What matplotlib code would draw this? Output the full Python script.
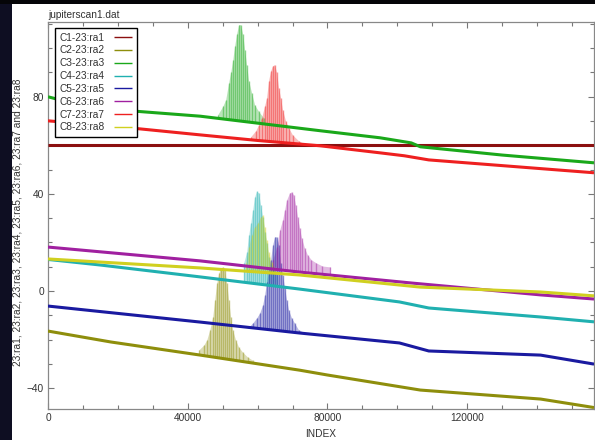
import numpy as np
import matplotlib
matplotlib.use("Agg")
import matplotlib.pyplot as plt
from matplotlib.ticker import MultipleLocator
from matplotlib.patches import Rectangle

plt.rcParams['font.family'] = ['Liberation Sans', 'DejaVu Sans']

labels = ["C1-23:ra1", "C2-23:ra2", "C3-23:ra3", "C4-23:ra4",
          "C5-23:ra5", "C6-23:ra6", "C7-23:ra7", "C8-23:ra8"]
colors = ['#8b1010', '#8e8e0c', '#1aa81a', '#20b0b0',
          '#1a1aa0', '#a020a0', '#ee2020', '#d0d020']

# baseline (drift) of each channel: INDEX sample points and values
c1_x = [0, 156300]
c1_y = [60.2, 60.2]
c2_x = [0, 18000, 43600, 72000, 80000, 106600, 141000, 156300]
c2_y = [-16.5, -21.0, -26.4, -32.6, -34.6, -40.8, -44.5, -48.0]
c3_x = [0, 12000, 43600, 78000, 95100, 104000, 106600, 130000, 156300]
c3_y = [80.0, 75.5, 72.0, 66.0, 63.1, 61.0, 59.4, 56.0, 52.8]
c4_x = [0, 15000, 43600, 72000, 100600, 109000, 141000, 156300]
c4_y = [13.0, 10.7, 5.8, 0.8, -4.5, -7.0, -10.7, -12.7]
c5_x = [0, 43600, 72000, 100600, 109000, 141000, 156300]
c5_y = [-6.2, -12.8, -17.3, -21.4, -24.7, -26.4, -30.1]
c6_x = [0, 43600, 72000, 104000, 141000, 156300]
c6_y = [18.1, 12.4, 7.8, 3.3, -1.6, -3.3]
c7_x = [0, 23400, 43600, 60000, 78000, 95100, 102000, 109000, 156300]
c7_y = [70.1, 67.2, 64.3, 62.0, 59.8, 56.9, 55.7, 54.0, 48.7]
c8_x = [0, 43600, 72000, 106600, 141000, 156300]
c8_y = [13.2, 9.5, 6.6, 1.6, -0.4, -2.0]

# fringe envelopes (upper edge of the Jupiter transit fringes)
p1_x, p1_y = [], []
p2_x = [43140, 44570, 45430, 46290, 47140, 47710, 48290, 48860, 49430, 50000,
        50570, 51140, 51710, 52280, 52860, 53710, 54570, 55710, 57140, 58570]
p2_y = [-24.3, -22.3, -20.2, -16.1, -10.7, -3.7, 3.3, 7.4, 9.5, 9.9,
        8.7, 3.3, -3.7, -10.7, -16.1, -20.2, -23.1, -25.2, -27.2, -28.5]
p3_x = [48570, 50000, 50860, 51710, 52280, 52860, 53430, 54000, 54570, 55140,
        55710, 56290, 56860, 57430, 58290, 59140, 60290, 61710]
p3_y = [72.6, 76.0, 78.8, 85.8, 90.0, 95.0, 101.0, 106.0, 109.7, 109.7,
        106.0, 99.4, 93.0, 86.6, 81.6, 76.7, 74.0, 71.3]
p4_x = [56000, 56860, 57430, 58000, 58570, 59140, 59710, 60290, 60860, 61430,
        62000, 62570, 63140, 64290, 65430]
p4_y = [11.5, 16.0, 23.0, 28.0, 33.4, 38.8, 41.2, 40.4, 35.5, 30.5,
        24.3, 19.8, 14.0, 9.9, 6.6]
p5_x = [57140, 58570, 59710, 60570, 61430, 62000, 62570, 63140, 63710, 64290,
        64860, 65430, 66000, 66570, 67140, 67710, 68290, 68860, 69710, 70570,
        71710, 73710]
p5_y = [-15.3, -13.2, -11.1, -9.1, -5.8, -1.6, 3.7, 8.7, 12.8, 19.0,
        22.3, 22.3, 19.0, 11.5, 6.6, 1.6, -3.7, -7.8, -11.1, -13.2,
        -16.0, -17.3]
p6_x = [64290, 65430, 66290, 67140, 67710, 68290, 69140, 69710, 70290, 70860,
        71430, 72000, 72570, 73430, 74290, 75430, 76860, 78570, 80860]
p6_y = [12.8, 18.0, 25.0, 29.3, 33.4, 37.5, 40.4, 40.8, 39.6, 35.5,
        30.5, 26.0, 21.9, 17.7, 14.8, 12.8, 11.5, 10.3, 9.9]
p7_x = [58000, 59430, 60290, 61140, 62000, 62570, 63140, 63710, 64290, 64860,
        65430, 66000, 66570, 67140, 68000, 68860, 70000, 71710, 73710]
p7_y = [63.5, 66.0, 68.5, 71.3, 76.3, 79.6, 86.6, 90.7, 92.8, 93.2,
        90.0, 83.7, 79.6, 74.6, 70.1, 67.2, 64.3, 61.9, 60.2]
p8_x = [56570, 57430, 58290, 59140, 60000, 60860, 61430, 62000, 62570, 63140,
        64000, 64860]
p8_y = [11.5, 18.0, 23.0, 26.4, 28.0, 30.5, 31.3, 26.4, 21.0, 16.0,
        12.0, 9.9]

base_x = [c1_x, c2_x, c3_x, c4_x, c5_x, c6_x, c7_x, c8_x]
base_y = [c1_y, c2_y, c3_y, c4_y, c5_y, c6_y, c7_y, c8_y]
peak_x = [p1_x, p2_x, p3_x, p4_x, p5_x, p6_x, p7_x, p8_x]
peak_y = [p1_y, p2_y, p3_y, p4_y, p5_y, p6_y, p7_y, p8_y]

xticks = [0, 40000, 80000, 120000]
yticks = [-40, 0, 40, 80]

W, H = 595, 440
fig = plt.figure(figsize=(W / 100, H / 100), dpi=100, facecolor='white')
# dark screen border
fig.patches.append(Rectangle((0, 0), 12 / W, 1, transform=fig.transFigure,
                             facecolor='#0e0e22', edgecolor='none', zorder=0))
fig.patches.append(Rectangle((0, 1 - 4 / H), 1, 4 / H, transform=fig.transFigure,
                             facecolor='#050508', edgecolor='none', zorder=0))

ax = fig.add_axes([48 / W, 1 - 409 / H, 546 / W, 387 / H])
ax.set_facecolor('white')

for i in range(8):
    ax.plot(base_x[i], base_y[i], color=colors[i], lw=2.2, label=labels[i],
            zorder=3, solid_capstyle='butt')
    if len(peak_x[i]):
        px = np.array(peak_x[i], dtype=float)
        py = np.array(peak_y[i], dtype=float)
        lo = np.interp(px, base_x[i], base_y[i])
        ax.fill_between(px, lo, py, color=colors[i], alpha=0.3, lw=0, zorder=1)
        ax.vlines(px, lo, py, color=colors[i], alpha=0.45, lw=1.0, zorder=2)

ax.set_xlim(0, 156300)
ax.set_ylim(-48.6, 110.8)
ax.set_xticks(xticks)
ax.set_yticks(yticks)
ax.xaxis.set_minor_locator(MultipleLocator(10000))
ax.yaxis.set_minor_locator(MultipleLocator(10))
ax.tick_params(which='both', direction='in', top=True, right=True,
               color='#777777', labelsize=7.3, labelcolor='#333333', pad=3)
ax.tick_params(which='major', length=4, width=0.8)
ax.tick_params(which='minor', length=3, width=0.8)
for s in ax.spines.values():
    s.set_color('#888888')
    s.set_linewidth(0.9)

ax.set_title('jupiterscan1.dat', loc='left', fontsize=7.3, color='#333333', pad=3)
ax.set_xlabel('INDEX', fontsize=7.3, color='#333333', labelpad=4)
ax.set_ylabel('23:ra1, 23:ra2, 23:ra3, 23:ra4, 23:ra5, 23:ra6, 23:ra7 and 23:ra8',
              fontsize=7.3, color='#333333')
ax.yaxis.set_label_coords(-(48 - 23) / 546, (409 - 222) / 387)

leg = ax.legend(loc='upper left', bbox_to_anchor=(7 / 546, 1 - 6 / 387),
                borderaxespad=0, fontsize=7.3, markerfirst=False,
                handlelength=1.8, handletextpad=0.9, labelspacing=0.28,
                borderpad=0.45, fancybox=False, framealpha=1, edgecolor='black')
leg.get_frame().set_linewidth(1.0)
for t in leg.get_texts():
    t.set_color('#333333')
for h in leg.get_lines():
    h.set_linewidth(1.0)

fig.savefig('out.png', dpi=100, facecolor=fig.get_facecolor())
